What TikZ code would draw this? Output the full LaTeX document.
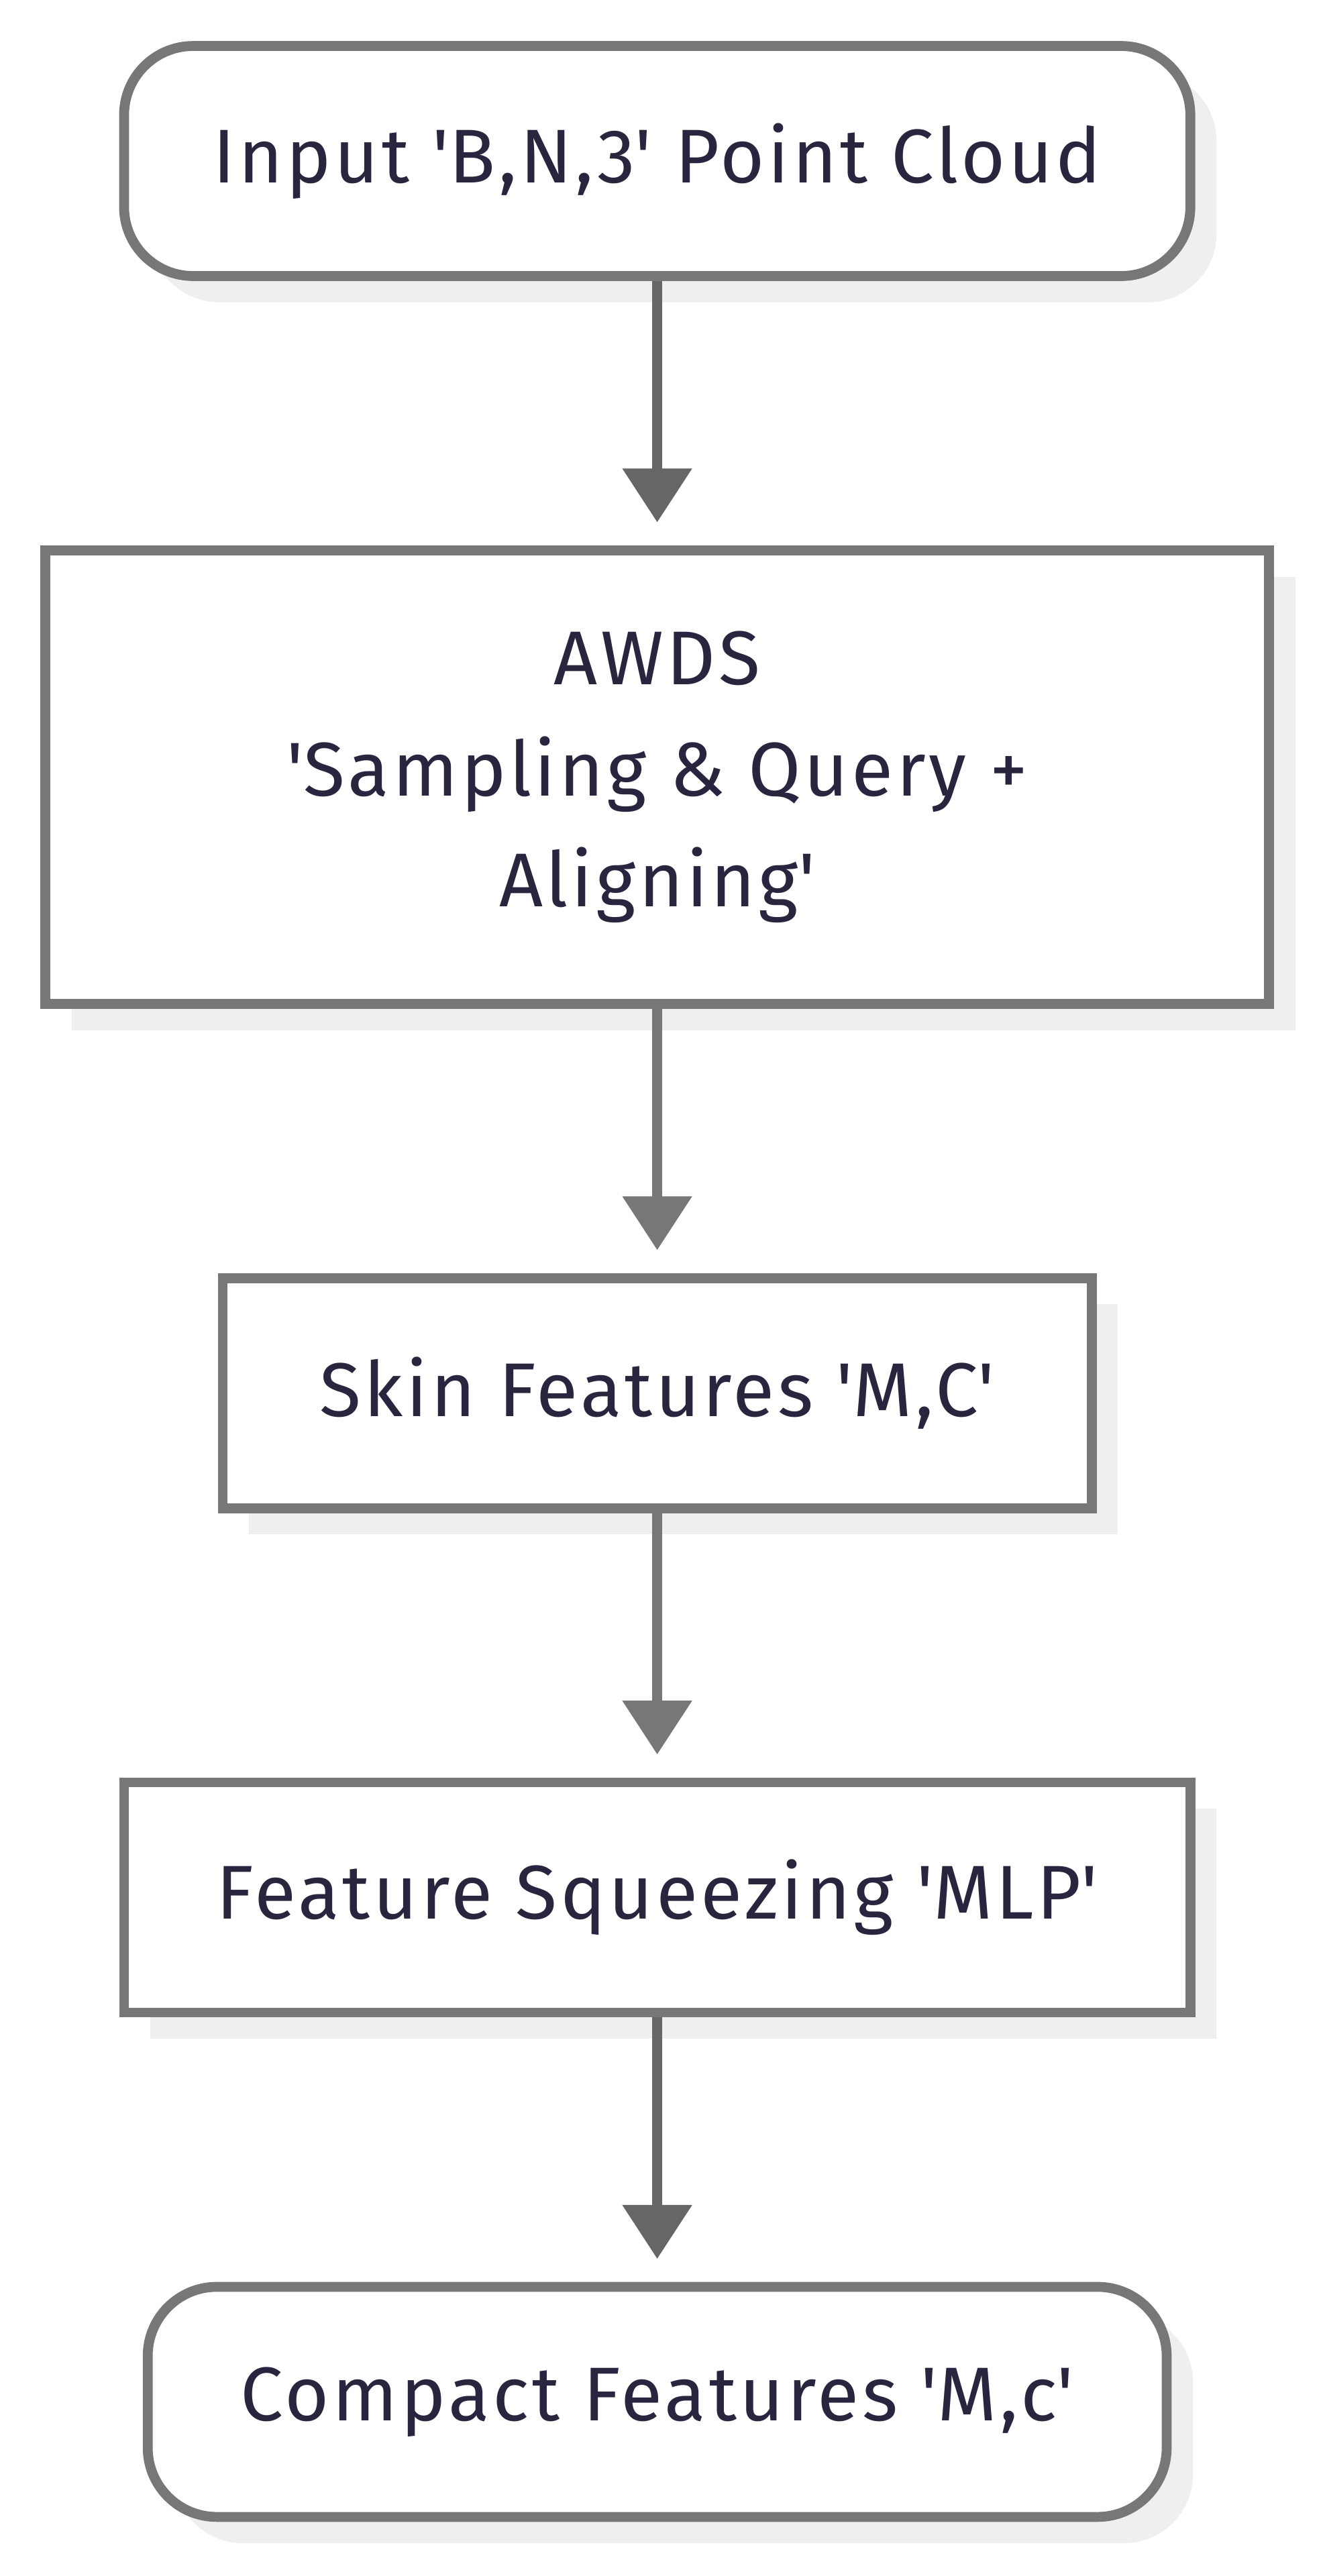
\documentclass[tikz,border=0pt]{standalone}
\usepackage{fontspec}
\setmainfont{Fira Sans}[LetterSpace=4]
\usetikzlibrary{arrows.meta,shadows}
\definecolor{edgegray}{HTML}{777777}
\definecolor{linkgray}{HTML}{666666}
\definecolor{shadegray}{HTML}{EFEFEF}
\definecolor{inkblue}{HTML}{28253F}
\begin{document}
\begin{tikzpicture}[x=0.025cm,y=-0.025cm]
	\tikzset{every node/.style={font=\fontsize{33}{48}\selectfont,text=inkblue,align=center},
		box/.style={draw=edgegray,line width=0.15cm,fill=white,minimum height=3.5cm,
			drop shadow={shadow xshift=0.4cm,shadow yshift=-0.4cm,fill=shadegray,opacity=1}},
		roundbox/.style={box,rounded corners=1.05cm},
		link/.style={line width=0.16cm,shorten >=0.35cm,-{Triangle[width=1.02cm,length=0.82cm]}}}
	\useasboundingbox (0,0) rectangle (805,1568);
	\node[roundbox,minimum width=16.22cm] (input) at (400,98) {Input \textquotesingle B,N,3\textquotesingle{} Point Cloud};
	\node[box,minimum width=18.62cm,minimum height=6.9cm] (awds) at (400,473) {AWDS\\\textquotesingle Sampling \& Query +\\Aligning\textquotesingle};
	\node[box,minimum width=13.22cm] (skin) at (400,848) {Skin Features \textquotesingle M,C\textquotesingle};
	\node[box,minimum width=16.22cm] (squeeze) at (400,1155) {Feature Squeezing \textquotesingle MLP\textquotesingle};
	\node[roundbox,minimum width=15.5cm] (compact) at (400,1462) {Compact Features \textquotesingle M,c\textquotesingle};
	\foreach \from/\to/\col in {input/awds/linkgray,awds/skin/edgegray,skin/squeeze/edgegray,squeeze/compact/linkgray}
		\draw[link,\col] (\from) -- (\to);
\end{tikzpicture}
\end{document}
